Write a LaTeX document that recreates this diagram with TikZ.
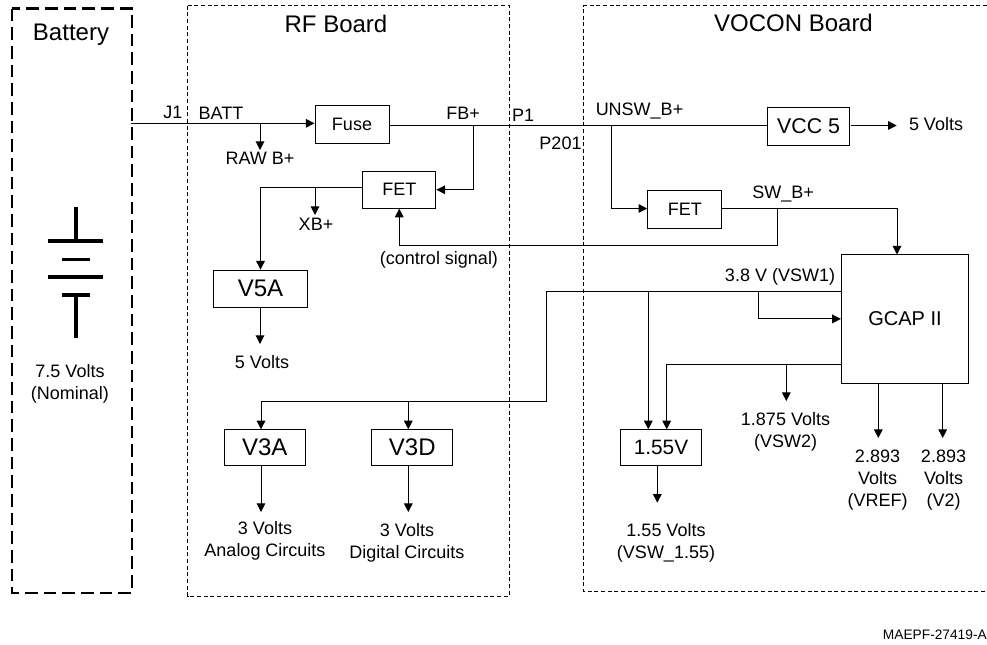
\documentclass[tikz,border=0pt]{standalone}
\usepackage{fontspec}
\setmainfont{Liberation Sans}
\usetikzlibrary{arrows.meta}
\tikzset{
	>={Triangle[length=6.5pt,width=6.5pt]},
	wire/.style={line width=.75pt},
	block/.style={draw,line width=.75pt,inner sep=0pt,align=center,font=\fontsize{13.5}{16.5}\selectfont},
	bigblock/.style={block,font=\fontsize{18}{21}\selectfont},
	label/.style={inner sep=0pt,align=center,font=\fontsize{13.5}{16.5}\selectfont},
	title/.style={inner sep=0pt,font=\fontsize{18}{21}\selectfont},
	board/.style={line width=.75pt,dash pattern=on 3pt off 2pt},
}
\begin{document}
\begin{tikzpicture}[x=.75pt,y=-.75pt]
	\useasboundingbox (0,0) rectangle (987,644);
	
	% boards
	\draw[line width=1.6pt,dash pattern=on 9.5pt off 4.5pt] (12,8.5) rectangle (132,592.7);
	\draw[board] (187.5,5.5) rectangle (509,596);
	\draw[board] (987,5.5)--(583.7,5.5)--(583.7,591.7)--(987,591.7);
	\node[title] (battery) at (71,35) {Battery};
	\node[title] (rfboard) at (336,24) {RF Board};
	\node[title] (voconboard) at (793.5,23) {VOCON Board};
	
	% cell symbol
	\draw[line width=2.4pt] (76,206.7)--(76,241);
	\draw[line width=2.4pt] (76,295)--(76,338);
	\foreach \y in {241,277}
	{
		\draw[line width=2.4pt] (48,\y)--(103,\y);
	}
	\foreach \y in {259.5,295}
	{
		\draw[line width=2.4pt] (62,\y)--(90,\y);
	}
	\node[label] (nominal) at (70,383.7) {7.5 Volts\\(Nominal)};
	
	% blocks
	\node[block,minimum width=55.5pt,minimum height=29pt] (fuse) at (352,124.5) {Fuse};
	\node[block,minimum width=55pt,minimum height=27.5pt] (fetrf) at (399.25,189.75) {FET};
	\node[block,minimum width=55.7pt,minimum height=29pt] (fetvocon) at (684.85,209.5) {FET};
	\node[bigblock,minimum width=70pt,minimum height=28pt] (vfivea) at (260.5,288.75) {V5A};
	\node[bigblock,minimum width=61pt,minimum height=27.5pt] (vthreea) at (264.75,447.65) {V3A};
	\node[bigblock,minimum width=61pt,minimum height=27.5pt] (vthreed) at (412.25,447.65) {V3D};
	\node[block,font=\fontsize{15.6}{18}\selectfont,minimum width=61pt,minimum height=27.5pt] (vlow) at (661,447.65) {1.55V};
	\node[block,font=\fontsize{16}{18}\selectfont,minimum width=61.4pt,minimum height=29pt] (vcc) at (808.6,126.5) {VCC 5};
	\node[block,font=\fontsize{15}{18}\selectfont,minimum width=95.5pt,minimum height=96.6pt] (gcap) at (905,318.9) {GCAP II};
	
	% texts
	\node[label] (jone) at (173,112) {J1};
	\node[label] (batt) at (221,113) {BATT};
	\node[label] (rawb) at (260,158) {RAW B+};
	\node[label] (fbplus) at (463,113) {FB+};
	\node[label] (xbplus) at (316,224) {XB+};
	\node[label] (control) at (439,260) {(control signal)};
	\node[label] (pone) at (523,115) {P1};
	\node[label] (ptwo) at (560.5,143) {P201};
	\node[label] (unsw) at (639.5,111) {UNSW\_B+};
	\node[label] (swb) at (783,193.5) {SW\_B+};
	\node[label] (vccout) at (936,124) {5 Volts};
	\node[label] (vswone) at (780,277) {3.8 V (VSW1)};
	\node[label] (vfiveout) at (262,362) {5 Volts};
	\node[label] (analog) at (265,540.5) {3 Volts\\Analog Circuits};
	\node[label] (digital) at (407,542.5) {3 Volts\\Digital Circuits};
	\node[label] (vlowout) at (666,543) {1.55 Volts\\(VSW\_1.55)};
	\node[label] (vswtwo) at (785.5,432) {1.875 Volts\\(VSW2)};
	\node[label] (vref) at (877.5,480) {2.893\\Volts\\(VREF)};
	\node[label] (vtwo) at (943.5,480) {2.893\\Volts\\(V2)};
	\node[inner sep=0pt,anchor=east,font=\fontsize{10.3}{12}\selectfont] (code) at (987,634.5) {MAEPF-27419-A};
	
	% junctions and free ends
	\coordinate (jack) at (131,123.3);
	\coordinate (rawjoin) at (260,123.3);
	\coordinate (rawtip) at (260,150);
	\coordinate (fbjoin) at (473,125.5);
	\coordinate (unswjoin) at (611.3,125.5);
	\coordinate (xbjoin) at (315,187.5);
	\coordinate (xbtip) at (315,215);
	\coordinate (vfivetip) at (260,344);
	\coordinate (swjoin) at (777.3,208.5);
	\coordinate (ctlturn) at (777.3,245);
	\coordinate (gcaptop) at (897,254.5);
	\coordinate (vccstart) at (851,125.5);
	\coordinate (vcctip) at (896.7,125.5);
	\coordinate (railjoin) at (758.7,291);
	\coordinate (railturn) at (546.7,291);
	\coordinate (raildown) at (546.7,401.7);
	\coordinate (vthreeatop) at (261,429.3);
	\coordinate (vthreedtop) at (408.3,429.3);
	\coordinate (vlowtop) at (648.3,429.3);
	\coordinate (vlowback) at (666.7,429.3);
	\coordinate (backjoin) at (786.3,364.7);
	\coordinate (vswtwotip) at (786.3,401);
	\coordinate (vreftip) at (878.3,438);
	\coordinate (vtwotip) at (942.7,438);
	\coordinate (vlowtip) at (657.3,502.7);
	\coordinate (analogtip) at (261,512);
	\coordinate (digitaltip) at (408.3,512);
	
	% battery feed and RF board
	\draw[wire,->] (jack)--(jack -| fuse.west);
	\draw[wire,->] (rawjoin)--(rawtip);
	\draw[wire] (fbjoin -| fuse.east)--(fbjoin -| vcc.west);
	\draw[wire,->] (fbjoin) |- (fetrf.east);
	\draw[wire,->] (xbjoin -| fetrf.west) -| (vfivea.north);
	\draw[wire,->] (xbjoin)--(xbtip);
	\draw[wire,->] (vfivea.south -| vfivetip)--(vfivetip);
	
	% VOCON board
	\draw[wire,->] (vccstart)--(vcctip);
	\draw[wire,->] (unswjoin) |- (swjoin -| fetvocon.west);
	\draw[wire,->] (swjoin -| fetvocon.east) -| (gcaptop);
	\draw[wire,->] (swjoin)--(ctlturn) -| (fetrf.south);
	\draw[wire,->] (railjoin -| gcap.west)--(railturn)--(raildown) -| (vthreeatop);
	\draw[wire,->] (vthreedtop |- raildown)--(vthreedtop);
	\draw[wire,->] (vlowtop |- railjoin)--(vlowtop);
	\draw[wire,->] (railjoin) |- (gcap.west);
	\draw[wire,->] (backjoin -| gcap.west) -| (vlowback);
	\draw[wire,->] (backjoin)--(vswtwotip);
	
	% outputs
	\foreach \from/\tip in {gcap/vreftip,gcap/vtwotip,vlow/vlowtip,vthreea/analogtip,vthreed/digitaltip}
	{
		\draw[wire,->] (\from.south -| \tip)--(\tip);
	}
\end{tikzpicture}
\end{document}
